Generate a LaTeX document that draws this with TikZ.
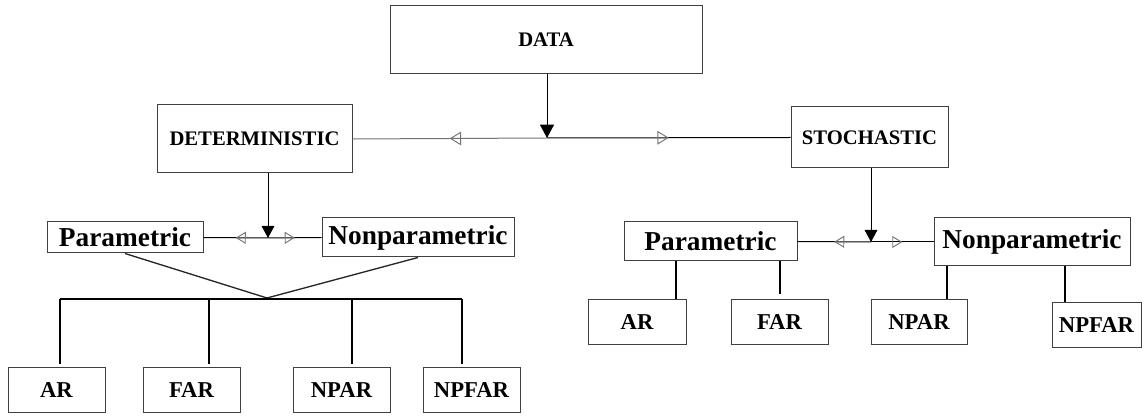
\documentclass[tikz,border=0pt]{standalone}
\usepackage{fontspec}
\setmainfont{Liberation Serif}
\usetikzlibrary{arrows.meta,decorations.markings}

\tikzset{
  box/.style={draw=black!75, rectangle, inner sep=0pt, line width=0.75pt},
  topfont/.style={font=\fontsize{15.5}{18}\selectfont\bfseries},
  midfont/.style={font=\fontsize{20.5}{24}\selectfont\bfseries},
  lowfont/.style={font=\fontsize{17}{20}\selectfont\bfseries},
  stem/.style={line width=1.5pt},
  midarrow/.style={decoration={markings, mark=at position 0.5 with
      {\arrow[black!55, line width=0.7pt]{Triangle[open, length=#1, width=1.2*#1]}}},
    postaction={decorate}},
  midarrow/.default=7.5pt
}

\begin{document}
\begin{tikzpicture}[x=0.75pt, y=-0.75pt, line width=0.75pt]
\useasboundingbox (0,0) rectangle (1146,416);

% top level
\draw (546,40) node[box, topfont, minimum width=234pt, minimum height=51pt](data){DATA}
    (254.5,139) node[box, topfont, minimum width=146.25pt, minimum height=51pt](det){DETERMINISTIC}
    (869.5,137.5) node[box, topfont, minimum width=117.75pt, minimum height=45.75pt](sto){STOCHASTIC};

% second level
\draw (125,237.5) node[box, midfont, minimum width=117pt, minimum height=23.25pt](par1){Parametric}
    (418,237.5) node[box, midfont, minimum width=144pt, minimum height=29.25pt](npar1){Nonparametric}
    (710.5,241.5) node[box, midfont, minimum width=129.75pt, minimum height=29.25pt](par2){Parametric}
    (1032,242) node[box, midfont, minimum width=147pt, minimum height=36pt](npar2){Nonparametric};

% models
\draw (56.5,390.5) node[box, lowfont, minimum width=72.75pt, minimum height=33.75pt](ar1){AR}
    (191.5,390.5) node[box, lowfont, minimum width=72.75pt, minimum height=33.75pt](far1){FAR}
    (341.5,390.5) node[box, lowfont, minimum width=72.75pt, minimum height=33.75pt](np1){NPAR}
    (471.5,390.5) node[box, lowfont, minimum width=72.75pt, minimum height=33.75pt](npf1){NPFAR}
    (637,322.5) node[box, lowfont, minimum width=73.5pt, minimum height=33.75pt](ar2){AR}
    (779.5,322.5) node[box, lowfont, minimum width=72.75pt, minimum height=33.75pt](far2){FAR}
    (919,322.5) node[box, lowfont, minimum width=72pt, minimum height=33.75pt](np2){NPAR}
    (1096.5,325.5) node[box, lowfont, minimum width=66.75pt, minimum height=33.75pt](npf2){NPFAR};

% DATA split
\coordinate (j0) at (547,138);
\draw [-{Triangle[length=10pt, width=10.5pt]}] (data.south -| j0) -- (j0);
\draw [midarrow=8.5pt, black!55] (j0) -- (det.east);
\draw [midarrow=8.5pt] (j0) -- (sto.west);

% deterministic side
\coordinate (j1) at (268,238);
\draw [-{Triangle[length=9pt, width=9.5pt]}] (det.south -| j1) -- (j1);
\draw [midarrow] (j1) -- (par1.east);
\draw [midarrow] (j1) -- (npar1.west);

\coordinate (j2) at (267,298);
\draw [black!85, line width=1pt] (par1.south) -- (j2);
\draw [black!85, line width=1pt] (npar1.south) -- (j2);
\coordinate (b1) at (60,299);
\coordinate (b2) at (209,299);
\coordinate (b3) at (352,299);
\coordinate (b4) at (462,299);
\draw [stem] (b1) -- (b4);
\foreach \b/\n in {b1/ar1, b2/far1, b3/np1, b4/npf1}
    \draw [stem, shorten >=2.25pt] (\b) -- (\b |- \n.north);

% stochastic side
\coordinate (j3) at (871,242);
\draw [-{Triangle[length=9pt, width=9.5pt]}] (sto.south -| j3) -- (j3);
\draw [midarrow] (j3) -- (par2.east);
\draw [midarrow] (j3) -- (npar2.west);

\coordinate (s1) at (676,0);
\coordinate (s2) at (780,0);
\coordinate (s3) at (947,0);
\coordinate (s4) at (1065,0);
\draw [stem] (par2.south -| s1) -- (s1 |- ar2.north);
\draw [stem, shorten >=3.75pt] (par2.south -| s2) -- (s2 |- far2.north);
\draw [stem] (npar2.south -| s3) -- (s3 |- np2.north);
\draw [stem] (npar2.south -| s4) -- (s4 |- npf2.north);
\end{tikzpicture}
\end{document}
